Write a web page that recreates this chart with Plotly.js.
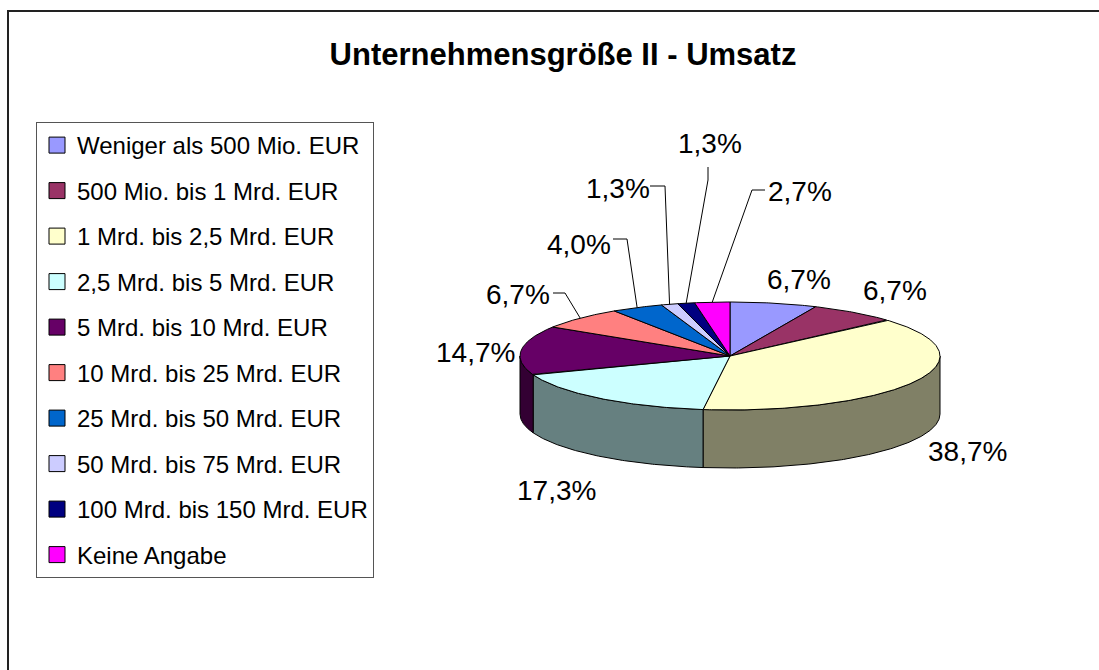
<!DOCTYPE html>
<html>
<head>
<meta charset="utf-8">
<script src="https://cdn.plot.ly/plotly-3.0.1.min.js"></script>
<style>
html,body{margin:0;padding:0;background:#fff;overflow:hidden;width:1099px;height:670px;}
#wrap{position:relative;width:1099px;height:670px;overflow:hidden;}
#chart{width:1099px;height:670px;}
#frame{position:absolute;left:7px;top:10px;width:1200px;height:800px;border-left:2px solid #222;border-top:2px solid #222;pointer-events:none;}
</style>
</head>
<body>
<div id="wrap"><div id="chart"></div><div id="frame"></div></div>
<script>
// ---- data ----
const categories = [
  'Weniger als 500 Mio. EUR',
  '500 Mio. bis 1 Mrd. EUR',
  '1 Mrd. bis 2,5 Mrd. EUR',
  '2,5 Mrd. bis 5 Mrd. EUR',
  '5 Mrd. bis 10 Mrd. EUR',
  '10 Mrd. bis 25 Mrd. EUR',
  '25 Mrd. bis 50 Mrd. EUR',
  '50 Mrd. bis 75 Mrd. EUR',
  '100 Mrd. bis 150 Mrd. EUR',
  'Keine Angabe'
];
const shares = [6.7, 6.7, 38.7, 17.3, 14.7, 6.7, 4.0, 1.3, 1.3, 2.7];
const colors = ['#9999FF','#993366','#FFFFCC','#CCFFFF','#660066','#FF8080','#0066CC','#CCCCFF','#000080','#FF00FF'];
const chartTitle = 'Unternehmensgröße II - Umsatz';

// ---- layout configuration (pixel geometry of the tilted pie) ----
const G = {cx: 730, cy: 356, a: 210, b: 54, depth: 58};
// label centres and leader line elbows (layout only)
const labelLayout = [
  {x: 799, y: 279},
  {x: 895, y: 290},
  {x: 967, y: 451},
  {x: 556, y: 490},
  {x: 475, y: 352},
  {x: 518, y: 294, elbow: [565, 293], end: [553, 293]},
  {x: 579, y: 244, elbow: [627, 239], end: [613, 239]},
  {x: 618, y: 188, elbow: [665, 186], end: [650, 186]},
  {x: 710, y: 143, elbow: [708, 180], end: [708, 167]},
  {x: 800, y: 191, elbow: [752, 190], end: [765, 190]}
];
const FONT = 'Arial, "Liberation Sans", sans-serif';

function shade(hex, f) {
  const n = parseInt(hex.slice(1), 16);
  const r = Math.round(((n >> 16) & 255) * f), g = Math.round(((n >> 8) & 255) * f), b = Math.round((n & 255) * f);
  return 'rgb(' + r + ',' + g + ',' + b + ')';
}
function pt(t, dy) { return [G.cx + G.a * Math.sin(t), G.cy - G.b * Math.cos(t) + (dy || 0)]; }
function arc(t1, t2, dy) {
  const n = Math.max(2, Math.ceil(Math.abs(t2 - t1) / 0.01));
  const out = [];
  for (let i = 0; i <= n; i++) out.push(pt(t1 + (t2 - t1) * i / n, dy));
  return out;
}

const total = shares.reduce((s, v) => s + v, 0);
const angles = [];
let acc = 0;
shares.forEach(v => { const t1 = acc / total * 2 * Math.PI; acc += v; angles.push([t1, acc / total * 2 * Math.PI]); });

const traces = [];
// rims (front half only)
shares.forEach((v, i) => {
  const lo = Math.max(angles[i][0], Math.PI / 2), hi = Math.min(angles[i][1], 3 * Math.PI / 2);
  if (lo >= hi) return;
  const pts = arc(lo, hi, 0).concat(arc(hi, lo, G.depth));
  pts.push(pts[0]);
  traces.push({type: 'scatter', mode: 'lines', x: pts.map(p => p[0]), y: pts.map(p => p[1]),
    fill: 'toself', fillcolor: shade(colors[i], 0.5), line: {color: '#000', width: 1},
    showlegend: false, hoverinfo: 'skip'});
});
// top faces
shares.forEach((v, i) => {
  const pts = [[G.cx, G.cy]].concat(arc(angles[i][0], angles[i][1], 0));
  pts.push([G.cx, G.cy]);
  traces.push({type: 'scatter', mode: 'lines', x: pts.map(p => p[0]), y: pts.map(p => p[1]),
    fill: 'toself', fillcolor: colors[i], line: {color: '#000', width: 1},
    name: categories[i], showlegend: false, hoverinfo: 'text', text: categories[i]});
});
// leader lines
shares.forEach((v, i) => {
  const L = labelLayout[i];
  if (!L.elbow) return;
  const s = pt((angles[i][0] + angles[i][1]) / 2, 0);
  traces.push({type: 'scatter', mode: 'lines', x: [s[0], L.elbow[0], L.end[0]], y: [s[1], L.elbow[1], L.end[1]],
    line: {color: '#000', width: 1}, showlegend: false, hoverinfo: 'skip'});
});
// legend entries
categories.forEach((c, i) => {
  traces.push({type: 'scatter', mode: 'markers', x: [null], y: [null], name: c, legendgroup: 'g' + i,
    marker: {symbol: 'square', size: 16, color: colors[i], line: {color: '#000', width: 1}}, showlegend: true});
});

const annotations = shares.map((v, i) => ({
  x: labelLayout[i].x, y: labelLayout[i].y, xref: 'x', yref: 'y', showarrow: false,
  xanchor: 'center', yanchor: 'middle',
  text: v.toFixed(1).replace('.', ',') + '%',
  font: {family: FONT, size: 28, color: '#000'}
}));

const layout = {
  width: 1099, height: 670,
  margin: {l: 0, r: 0, t: 0, b: 0, pad: 0},
  paper_bgcolor: '#fff', plot_bgcolor: '#fff',
  title: {text: chartTitle, x: 563 / 1099, xanchor: 'center', y: 1 - 54 / 670, yanchor: 'middle',
    font: {family: FONT, size: 31, color: '#000', weight: 'bold'}},
  xaxis: {range: [0, 1099], autorange: false, visible: false, fixedrange: true, showline: false, zeroline: false, showgrid: false},
  yaxis: {range: [670, 0], autorange: false, visible: false, fixedrange: true, showline: false, zeroline: false, showgrid: false},
  showlegend: true,
  legend: {x: 36 / 1099, y: 1 - 122 / 670, xanchor: 'left', yanchor: 'top',
    bgcolor: '#fff', bordercolor: '#555', borderwidth: 1,
    traceorder: 'grouped', tracegroupgap: 11.3,
    font: {family: FONT, size: 24, color: '#000'}},
  annotations: annotations
};

Plotly.newPlot('chart', traces, layout, {displayModeBar: false, staticPlot: true});
</script>
</body>
</html>
